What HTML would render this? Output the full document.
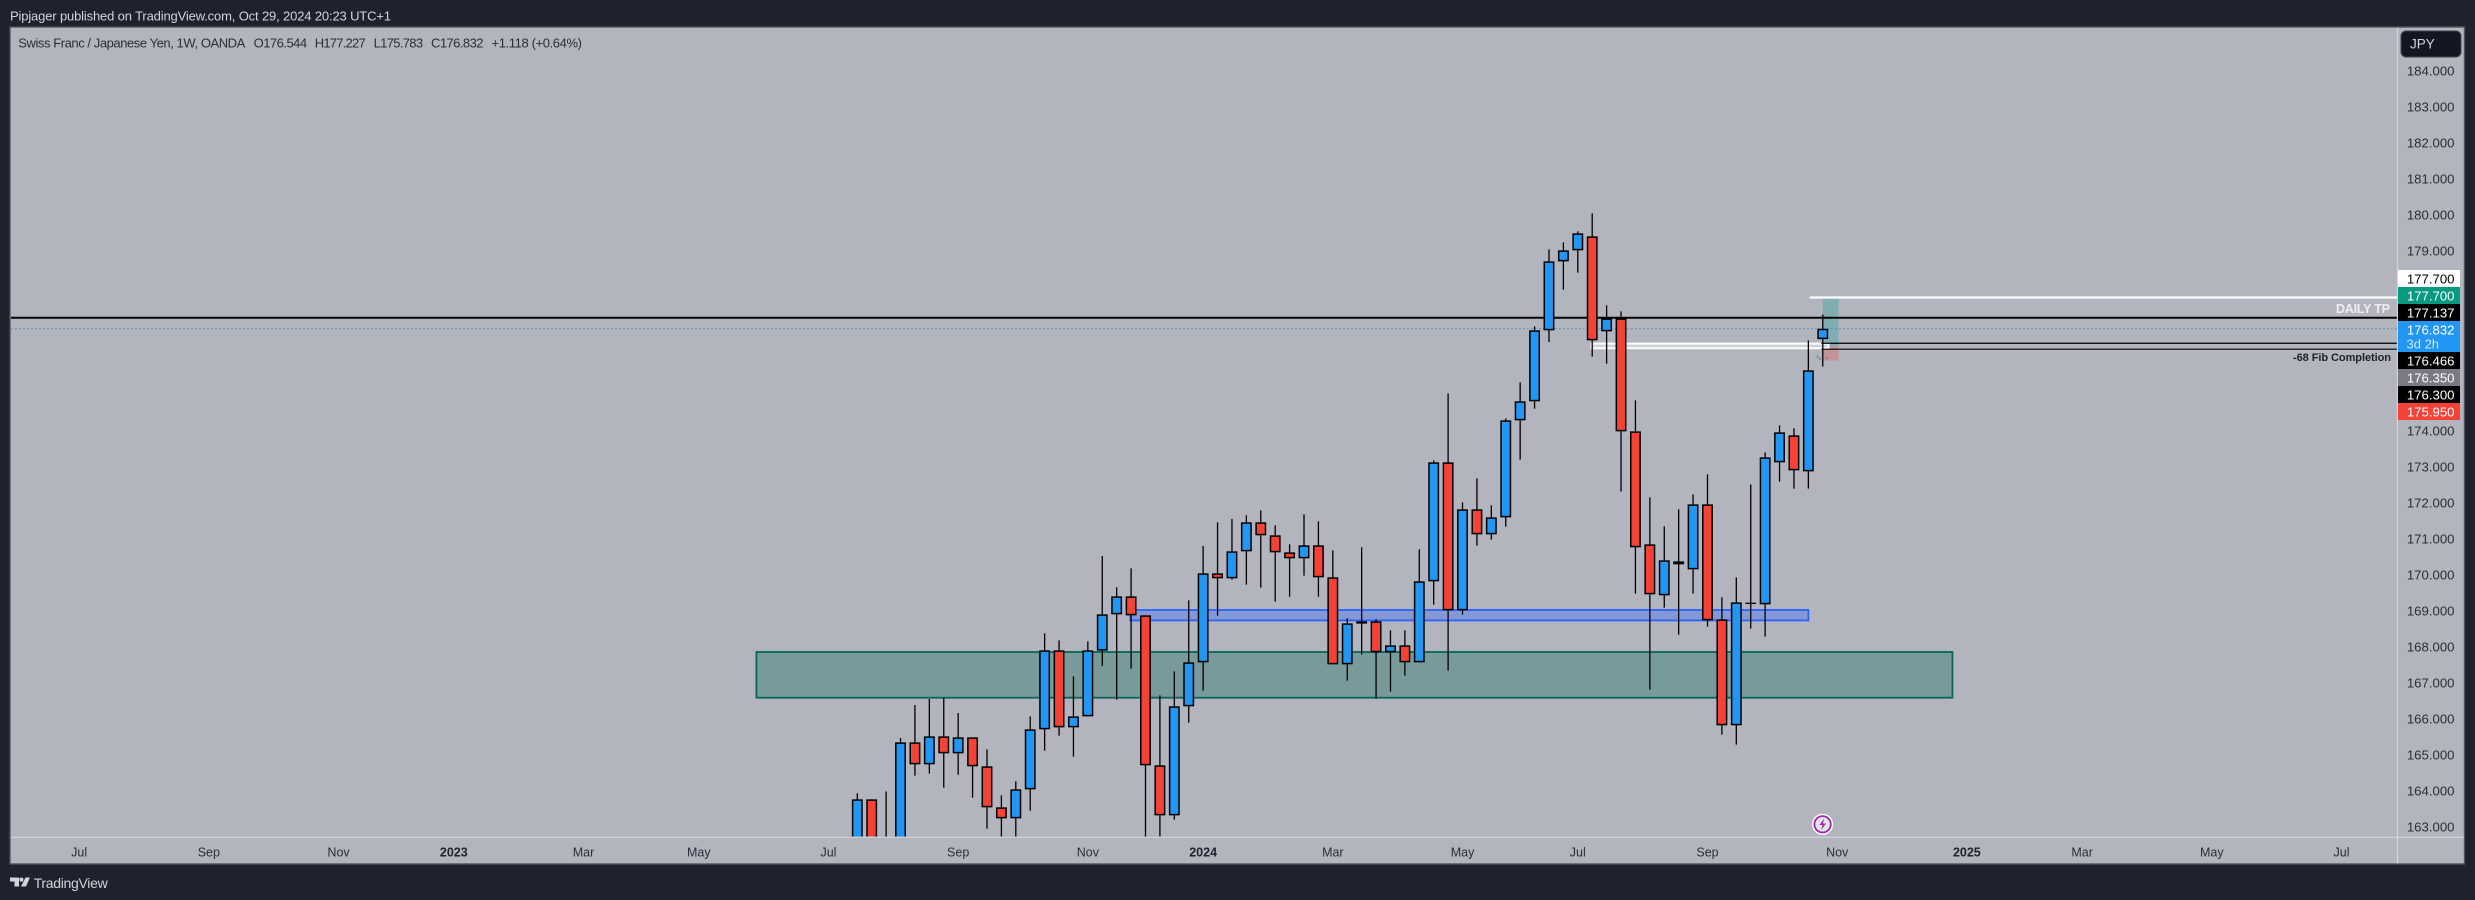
<!DOCTYPE html>
<html lang="en">
<head>
<meta charset="utf-8">
<title>CHF/JPY weekly chart</title>
<style>
html,body{margin:0;padding:0;background:#1e222d;width:2475px;height:900px;overflow:hidden}
svg{display:block;font-family:"Liberation Sans",sans-serif}
</style>
</head>
<body>
<svg id="chart" xmlns="http://www.w3.org/2000/svg" width="2475" height="900" viewBox="0 0 2475 900">
  <defs><clipPath id="pane-clip"><rect x="11" y="28" width="2386" height="808.5"/></clipPath></defs>
  <rect x="0" y="0" width="2475" height="900" fill="#1e222d"/>
  <text x="10" y="20.5" font-size="13" fill="#d1d4dc" textLength="381">Pipjager published on TradingView.com, Oct 29, 2024 20:23 UTC+1</text>
  <rect x="10" y="27" width="2454.5" height="837" fill="#b2b5be" stroke="#50535e" stroke-width="1.4"/>
  <g id="overlays" clip-path="url(#pane-clip)"></g>
  <g id="candles" clip-path="url(#pane-clip)"></g>
  <g id="tool-marks" stroke="#787b86" stroke-width="1.5" stroke-dasharray="2 1">
    <line x1="1817" y1="356" x2="1821" y2="360"/>
    <line x1="1826" y1="359" x2="1828" y2="356"/>
  </g>
  <text x="2390" y="313" font-size="12.5" font-weight="bold" fill="#eceef2" text-anchor="end" textLength="54">DAILY TP</text>
  <text x="2391" y="361" font-size="11" font-weight="bold" fill="#1e222d" text-anchor="end" textLength="98">-68 Fib Completion</text>
  <g font-size="13" fill="#2a2e39">
    <text x="18.3" y="47.5" textLength="227">Swiss Franc / Japanese Yen, 1W, OANDA</text>
    <text x="253.6" y="47.5" textLength="53.5">O176.544</text>
    <text x="314.7" y="47.5" textLength="51">H177.227</text>
    <text x="373.6" y="47.5" textLength="49.5">L175.783</text>
    <text x="431" y="47.5" textLength="52.5">C176.832</text>
    <text x="491.5" y="47.5" textLength="90.5">+1.118 (+0.64%)</text>
  </g>
  <line x1="2397.5" y1="27.5" x2="2397.5" y2="863.5" stroke="#d1d4dc" stroke-width="1.2"/>
  <line x1="10.5" y1="837.3" x2="2464" y2="837.3" stroke="#d1d4dc" stroke-width="1.2"/>
  <g id="price-axis"></g>
  <g id="price-labels"></g>
  <g id="time-axis"></g>
  <g>
    <rect x="2401" y="31" width="60" height="26" rx="5" fill="#131722" stroke="#434651" stroke-width="1"/>
    <text x="2410" y="48.5" font-size="13.5" fill="#d1d4dc">JPY</text>
  </g>
  <g>
    <circle cx="1822.6" cy="824.3" r="10.6" fill="#ffffff"/>
    <circle cx="1822.6" cy="824.3" r="8.2" fill="#e4e5ea" stroke="#9c27b0" stroke-width="1.8"/>
    <polygon points="1824,818.5 1819.5,825 1822.5,825 1821.2,830 1826,823.5 1823,823.5" fill="#9c27b0"/>
  </g>
  <g>
    <polygon points="10,877.5 19,877.5 19,886.5 14.5,886.5 14.5,881.5 10,881.5" fill="#d1d4dc"/>
    <circle cx="21.4" cy="879.6" r="2.1" fill="#d1d4dc"/>
    <polygon points="25.5,877.5 30,877.5 26,886.5 21,886.5" fill="#d1d4dc"/>
    <text x="33.7" y="888" font-size="14" fill="#d1d4dc" textLength="74">TradingView</text>
  </g>
</svg>
<script>
// Weekly OHLC values (CHF/JPY), oldest first.
const opens = [162.5,163.76,162.5,162.4,165.343,164.732,165.51,165.038,165.482,164.677,163.538,163.232,164.038,165.704,167.899,165.76,166.065,167.89,168.899,169.399,168.871,164.705,163.315,166.344,167.566,170.038,169.899,170.649,171.455,171.094,170.621,170.455,170.816,169.927,167.51,168.649,168.705,167.844,168.038,167.566,169.816,173.121,169.01,171.816,171.121,171.593,174.288,174.816,176.788,178.704,179.01,179.399,176.76,177.121,173.982,170.843,169.427,170.371,170.149,171.954,168.76,165.816,169.205,169.177,173.121,173.871,172.871,176.544];
const highs = [163.927,163.76,163.98,165.464,166.38,166.547,166.575,166.158,165.482,165.149,163.871,164.26,166.065,168.371,168.177,167.177,168.149,170.52,169.649,170.177,168.871,166.649,167.316,169.288,170.797,171.455,171.547,171.649,171.788,171.372,170.844,171.677,171.483,170.677,168.788,170.76,168.76,168.455,168.455,170.705,173.177,175.038,172.01,172.677,171.927,174.343,175.343,176.899,179.038,179.232,179.538,180.038,177.482,177.315,174.843,172.149,171.343,171.816,172.232,172.788,169.372,169.927,172.51,173.399,174.149,174.066,176.51,177.227];
const lows = [162.2,162.1,162.0,162.2,164.417,164.473,164.084,164.445,163.806,162.945,162.5,162.5,163.445,165.112,165.528,164.945,166.065,167.464,166.529,167.39,162.4,162.5,163.195,165.89,166.779,168.862,169.862,169.723,169.64,169.251,169.39,169.973,169.39,167.51,167.057,167.779,166.557,166.751,167.196,167.566,169.168,167.334,168.89,170.806,170.973,171.334,173.195,174.612,176.464,177.917,178.39,176.056,175.862,172.306,169.473,166.807,169.084,168.334,169.473,168.556,165.557,165.279,168.501,168.279,172.584,172.39,172.39,175.783];
const closes = [163.76,162.3,162.3,165.343,164.732,165.51,165.038,165.482,164.677,163.538,163.232,164.038,165.704,167.899,165.76,166.065,167.899,168.899,169.399,168.871,164.705,163.315,166.344,167.566,170.038,169.899,170.649,171.455,171.094,170.621,170.455,170.816,169.927,167.51,168.649,168.705,167.844,168.038,167.566,169.816,173.121,169.01,171.816,171.121,171.593,174.288,174.816,176.788,178.704,179.01,179.482,176.51,177.121,173.982,170.76,169.455,170.399,170.288,171.954,168.732,165.816,169.232,169.205,173.26,173.954,172.899,175.677,176.832];

// Axis contents.
const priceTicks = [184,183,182,181,180,179,174,173,172,171,170,169,168,167,166,165,164,163];
const timeLabels = ['Jul','Sep','Nov','2023','Mar','May','Jul','Sep','Nov','2024','Mar','May','Jul','Sep','Nov','2025','Mar','May','Jul'];
const timeWeeks = [-54,-45,-36,-28,-19,-11,-2,7,16,24,33,42,50,59,68,77,85,94,103];

// Levels of the drawings on the chart.
const supplyZonePrices = [167.853,166.583];
const supplyZoneWeeks = [-7,76];
const blueZonePrices = [169.02,168.73];
const blueZoneWeeks = [18.95,66];
const dailyTpLevel = 177.137;
const lastPrice = 176.832;
const targetLevel = 177.7;
const whiteBoxPrices = [176.42,176.29];
const whiteBoxWeeks = [50.95,67.4];
const fibLevels = [176.43,176.264];
const positionPrices = [177.7,176.35,175.95];
const positionWeeks = [67,68.1];

// Axis functions.
const priceY = p => 70.7 + (184 - p) * 36;
const weekX = i => 857.3 + 14.41 * i;

const NS = 'http://www.w3.org/2000/svg';
function make(parent, tag, attrs, text) {
  const el = document.createElementNS(NS, tag);
  for (const k in attrs) el.setAttribute(k, attrs[k]);
  if (text !== undefined) el.textContent = text;
  parent.appendChild(el);
  return el;
}
const overlays = document.getElementById('overlays');
const PANE_L = 11, PANE_R = 2397;
let el;

// Zones
el = make(overlays, 'rect', {x: weekX(supplyZoneWeeks[0]), y: priceY(supplyZonePrices[0]), width: weekX(supplyZoneWeeks[1]) - weekX(supplyZoneWeeks[0]), height: priceY(supplyZonePrices[1]) - priceY(supplyZonePrices[0]), fill: '#789a9a', stroke: '#07665a', 'stroke-width': 1.8});


el = make(overlays, 'rect', {x: weekX(blueZoneWeeks[0]), y: priceY(blueZonePrices[0]), width: weekX(blueZoneWeeks[1]) - weekX(blueZoneWeeks[0]), height: priceY(blueZonePrices[1]) - priceY(blueZonePrices[0]), fill: '#8498d6', stroke: '#2962ff', 'stroke-width': 1.8});



// Long-position tool
el = make(overlays, 'rect', {x: weekX(positionWeeks[0]), y: priceY(positionPrices[0]), width: weekX(positionWeeks[1]) - weekX(positionWeeks[0]), height: priceY(positionPrices[1]) - priceY(positionPrices[0]), fill: '#7fadb0'});


el = make(overlays, 'rect', {x: weekX(positionWeeks[0]), y: priceY(positionPrices[1]), width: weekX(positionWeeks[1]) - weekX(positionWeeks[0]), height: priceY(positionPrices[2]) - priceY(positionPrices[1]), fill: '#c59499', rx: 1.5});



// White box
el = make(overlays, 'rect', {x: weekX(whiteBoxWeeks[0]), y: priceY(whiteBoxPrices[0]), width: weekX(whiteBoxWeeks[1]) - weekX(whiteBoxWeeks[0]), height: priceY(whiteBoxPrices[1]) - priceY(whiteBoxPrices[0]), fill: '#d0d2d8', stroke: '#ffffff', 'stroke-width': 2});



// Horizontal lines
el = make(overlays, 'line', {x1: PANE_L, x2: PANE_R, y1: priceY(dailyTpLevel), y2: priceY(dailyTpLevel), stroke: '#000000', 'stroke-width': 2});


el = make(overlays, 'line', {x1: PANE_L, x2: PANE_R, y1: priceY(lastPrice), y2: priceY(lastPrice), stroke: '#2196f3', 'stroke-width': 1.1, 'stroke-dasharray': '1.5 2.5'});


el = make(overlays, 'line', {x1: weekX(66.1), x2: PANE_R, y1: priceY(targetLevel), y2: priceY(targetLevel), stroke: '#ffffff', 'stroke-width': 2.2});


fibLevels.forEach(level => {
  const line = make(overlays, 'line', {x1: weekX(66.9), x2: PANE_R, y1: priceY(level), y2: priceY(level), stroke: '#000000', 'stroke-width': 1.2});
  
  
});

// Candles
const candles = document.getElementById('candles');
const BODY_W = 9.4;
opens.forEach((open, i) => {
  const close = closes[i], x = weekX(i);
  const g = make(candles, 'g', {});
  
  
  const wick = make(g, 'line', {x1: x, x2: x, y1: priceY(highs[i]), y2: priceY(lows[i]), stroke: '#000000', 'stroke-width': 1.3});
  
  
  if (open === close) {
    const doji = make(g, 'line', {x1: x - 5.3, x2: x + 5.3, y1: priceY(open), y2: priceY(open), stroke: '#000000', 'stroke-width': 1.3});
    
    
    return;
  }
  const top = priceY(Math.max(open, close)) + 0.75;
  const bottom = priceY(Math.min(open, close)) - 0.75;
  const body = make(g, 'rect', {x: x - BODY_W / 2, y: top, width: BODY_W, height: Math.max(bottom - top, 0.8), fill: close >= open ? '#2196f3' : '#f44336', stroke: '#000000', 'stroke-width': 1.5});
  
  
});

// Price axis ticks
const priceAxis = document.getElementById('price-axis');
priceTicks.forEach(p => {
  const t = make(priceAxis, 'text', {x: 2454.5, y: priceY(p) + 5, 'font-size': 13.2, fill: '#2a2e39', 'text-anchor': 'end'}, p.toFixed(3));
  
  
});

// Stacked price labels
const labelTexts = ['177.700','177.700','177.137','176.832','176.466','176.350','176.300','175.950'];
const labelFills = ['#ffffff','#089981','#000000','#2196f3','#000000','#787b86','#000000','#f44336'];
const labelInk = ['#000000','#ffffff','#ffffff','#ffffff','#ffffff','#ffffff','#ffffff','#ffffff'];
const priceLabels = document.getElementById('price-labels');
let stackY = 270;
labelTexts.forEach((txt, i) => {
  const h = txt === '176.832' ? 31 : 17;
  const box = make(priceLabels, 'rect', {x: 2398, y: stackY, width: 62, height: h, fill: labelFills[i]});
  
  
  const label = make(priceLabels, 'text', {x: 2454.5, y: stackY + 13.5, 'font-size': 13.2, fill: labelInk[i], 'text-anchor': 'end'}, txt);
  
  
  if (h > 17) {
    const countdown = make(priceLabels, 'text', {x: 2406.5, y: stackY + 27.5, 'font-size': 13, fill: '#cfe7fb'}, '3d 2h');
    
    
  }
  stackY += h;
});

// Time axis labels
const timeAxis = document.getElementById('time-axis');
timeLabels.forEach((lab, i) => {
  const isYear = /^\d+$/.test(lab);
  const t = make(timeAxis, 'text', {x: weekX(timeWeeks[i]), y: 856.5, 'font-size': 12.5, fill: isYear ? '#1e222d' : '#2a2e39', 'font-weight': isYear ? 'bold' : 'normal', 'text-anchor': 'middle'}, lab);
  
  
});
</script>
</body>
</html>
